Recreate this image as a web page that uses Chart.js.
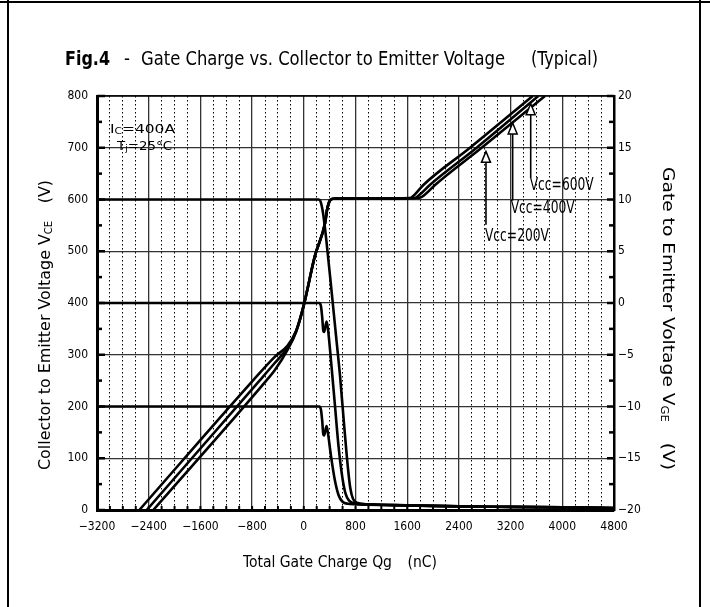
<!DOCTYPE html>
<html>
<head>
<meta charset="utf-8">
<script src="https://cdn.jsdelivr.net/npm/chart.js@4.4.0/dist/chart.umd.min.js"></script>
<style>
  html, body { margin: 0; padding: 0; background: #fff; }
</style>
</head>
<body>
<canvas id="grafico" width="710" height="607"></canvas>
<script>
const FONT = "'Liberation Sans Narrow', 'DejaVu Sans Condensed', 'Liberation Sans', sans-serif";

// Collector-emitter voltage curves (left axis, V) vs. gate charge (nC)
const vce600Qg = [-3200, 230, 260, 300, 350, 432, 500, 560, 620, 680, 720, 760, 820, 1000, 1600, 2400, 3200, 4000, 4800];
const vce600V  = [600, 600, 596, 572, 520, 420, 335, 260, 170, 85, 42, 22, 14, 11, 9, 7, 6, 5, 4];
const vce400Qg = [-3200, 240, 265, 285, 302, 315, 352, 372, 420, 480, 540, 600, 650, 700, 780, 1000, 1600, 2400, 3200, 4000, 4800];
const vce400V  = [400, 400, 394, 372, 346, 344, 364, 352, 290, 205, 120, 60, 30, 18, 13, 11, 9, 7, 6, 5, 4];
const vce200Qg = [-3200, 240, 265, 285, 302, 315, 352, 372, 420, 480, 540, 600, 680, 800, 1000, 1600, 2400, 3200, 4000, 4800];
const vce200V  = [200, 200, 194, 172, 146, 144, 162, 150, 105, 58, 28, 16, 12, 11, 10, 9, 7, 6, 5, 4];

// Gate-emitter voltage curves (right axis, V)
const vgeAQg = [-2545, -781, -450, -250, -120, 0, 170, 330, 360, 410, 480, 1000, 1650, 1720, 1850, 2572, 3542];
const vgeAV  = [-20, -7.45, -5.2, -4.1, -2.7, -0.2, 4.5, 7.75, 9.0, 9.95, 10.1, 10.1, 10.15, 10.5, 11.4, 15.0, 20];
const vgeBQg = [-2431, -678, -450, -250, -120, 0, 170, 330, 360, 410, 480, 1000, 1720, 1800, 1950, 2675, 3629];
const vgeBV  = [-20, -7.45, -5.8, -4.3, -2.75, -0.2, 4.5, 7.75, 9.0, 9.95, 10.1, 10.1, 10.15, 10.5, 11.4, 15.0, 20];
const vgeCQg = [-2329, -574, -450, -250, -120, 0, 170, 330, 360, 410, 480, 1000, 1790, 1880, 2030, 2752, 3732];
const vgeCV  = [-20, -7.45, -6.5, -4.5, -2.8, -0.2, 4.5, 7.75, 9.0, 9.95, 10.1, 10.1, 10.15, 10.5, 11.4, 15.0, 20];

// Vcc arrows: tip (Qg, Vce) and bottom of shaft (Vce)
const vccLabels  = ['Vcc=200V', 'Vcc=400V', 'Vcc=600V'];
const arrowTipQg = [2819, 3232, 3511];
const arrowTipV  = [693, 748, 785];
const arrowEndV  = [551, 598, 642];

function pontos(xs, ys) {
    return xs.map((x, i) => ({ x: x, y: ys[i] }));
}

function fmt(v) {
    return v < 0 ? '\u2212' + Math.abs(v) : String(v);
}

// draws a sequence of text runs, condensed horizontally by sx
function desenhaRuns(ctx, runs, x, y, sx) {
    ctx.save();
    ctx.translate(x, y);
    ctx.scale(sx, 1);
    let cx = 0;
    runs.forEach(r => {
        ctx.font = (r.bold ? 'bold ' : '') + r.size + 'px ' + FONT;
        ctx.fillText(r.t, cx, r.dy || 0);
        cx += ctx.measureText(r.t).width;
    });
    ctx.restore();
}

function larguraRuns(ctx, runs) {
    let w = 0;
    runs.forEach(r => {
        ctx.font = (r.bold ? 'bold ' : '') + r.size + 'px ' + FONT;
        w += ctx.measureText(r.t).width;
    });
    return w;
}

// fit runs into a target width starting at x
function runsFit(ctx, runs, x, y, alvo) {
    const w = larguraRuns(ctx, runs);
    desenhaRuns(ctx, runs, x, y, alvo / w);
}

const decor = {
    id: 'decor',
    afterDraw(chart) {
        const { ctx, chartArea: a, scales: { x, y, y2 } } = chart;
        ctx.save();
        ctx.strokeStyle = '#000';
        ctx.fillStyle = '#000';

        function linha(x1, y1, x2, y2p, w) {
            ctx.lineWidth = w;
            ctx.beginPath();
            ctx.moveTo(x1, y1);
            ctx.lineTo(x2, y2p);
            ctx.stroke();
        }

        // outer frame
        linha(0, 2, 710, 2, 2);
        linha(8, 0, 8, 607, 2);
        linha(700, 0, 700, 607, 2);

        // top border of plot
        linha(a.left, a.top, a.right, a.top, 1.5);

        // inward ticks
        for (let v = 0; v <= 800; v += 50) {
            const py = y.getPixelForValue(v);
            linha(a.left, py, a.left + (v % 100 === 0 ? 8 : 5), py, 2.5);
        }
        for (let v = -20; v <= 20; v += 2.5) {
            const py = y2.getPixelForValue(v);
            linha(a.right, py, a.right - (v % 5 === 0 ? 7 : 5), py, 2.5);
        }
        for (let q = -3200; q <= 4800; q += 200) {
            const px = x.getPixelForValue(q);
            linha(px, a.bottom, px, a.bottom - 4, 2);
        }

        ctx.textBaseline = 'middle';
        ctx.textAlign = 'left';

        // title
        runsFit(ctx, [{ t: 'Fig.4', size: 19, bold: true }], 65, 60, 45);
        runsFit(ctx, [{ t: '-', size: 19 }], 124, 60, 6);
        runsFit(ctx, [{ t: 'Gate Charge vs. Collector to Emitter Voltage', size: 19 }], 141, 60, 364);
        runsFit(ctx, [{ t: '(Typical)', size: 19 }], 531, 60, 67);

        // x axis title
        runsFit(ctx, [{ t: 'Total Gate Charge Qg\u3000(nC)', size: 15 }], 243, 563, 194);

        // left axis title
        ctx.save();
        ctx.translate(46, 470);
        ctx.rotate(-Math.PI / 2);
        runsFit(ctx, [
            { t: 'Collector to Emitter Voltage V', size: 16 },
            { t: 'CE', size: 10, dy: 3 },
            { t: '\u3000(V)', size: 16 }
        ], 0, 0, 290);
        ctx.restore();

        // right axis title
        ctx.save();
        ctx.translate(667, 167);
        ctx.rotate(Math.PI / 2);
        runsFit(ctx, [
            { t: 'Gate to Emitter Voltage V', size: 16 },
            { t: 'GE', size: 10, dy: 3 },
            { t: '\u3000(V)', size: 16 }
        ], 0, 0, 303);
        ctx.restore();

        // conditions
        runsFit(ctx, [{ t: 'I', size: 13 }, { t: 'C', size: 9, dy: 2 }, { t: '=400A', size: 13 }], 110, 130, 65);
        runsFit(ctx, [{ t: 'T', size: 13 }, { t: 'j', size: 9, dy: 2 }, { t: '=25\u00b0C', size: 13 }], 117, 147, 55);

        // Vcc arrows
        const textoDx = [-1, -2, -1];
        const textoDy = [12, 8, 8];
        vccLabels.forEach((lab, i) => {
            const px = x.getPixelForValue(arrowTipQg[i]);
            const pt = y.getPixelForValue(arrowTipV[i]);
            const pb = y.getPixelForValue(arrowEndV[i]);
            linha(px, pt + 9, px, pb, 1.6);
            ctx.beginPath();
            ctx.moveTo(px, pt);
            ctx.lineTo(px - 4.5, pt + 11);
            ctx.lineTo(px + 4.5, pt + 11);
            ctx.closePath();
            ctx.fillStyle = '#fff';
            ctx.fill();
            ctx.lineWidth = 1.5;
            ctx.stroke();
            ctx.fillStyle = '#000';
            runsFit(ctx, [{ t: lab, size: 17 }], px + textoDx[i], pb + textoDy[i], 64);
        });

        ctx.restore();
    }
};

const estiloLinha = { borderColor: '#000', borderWidth: 2.6, pointRadius: 0, fill: false, cubicInterpolationMode: 'monotone' };

new Chart(document.getElementById('grafico'), {
    type: 'line',
    data: {
        datasets: [
            Object.assign({ label: 'VCE 600', data: pontos(vce600Qg, vce600V), yAxisID: 'y' }, estiloLinha),
            Object.assign({ label: 'VCE 400', data: pontos(vce400Qg, vce400V), yAxisID: 'y' }, estiloLinha),
            Object.assign({ label: 'VCE 200', data: pontos(vce200Qg, vce200V), yAxisID: 'y' }, estiloLinha),
            Object.assign({ label: 'VGE 200', data: pontos(vgeAQg, vgeAV), yAxisID: 'y2' }, estiloLinha),
            Object.assign({ label: 'VGE 400', data: pontos(vgeBQg, vgeBV), yAxisID: 'y2' }, estiloLinha),
            Object.assign({ label: 'VGE 600', data: pontos(vgeCQg, vgeCV), yAxisID: 'y2' }, estiloLinha)
        ]
    },
    options: {
        responsive: false,
        animation: false,
        layout: { padding: { top: 96, left: 0, right: 0, bottom: 0 } },
        plugins: { legend: { display: false }, tooltip: { enabled: false } },
        scales: {
            x: {
                type: 'linear', min: -3200, max: 4800,
                afterFit(s) { s.height = 97; },
                ticks: {
                    stepSize: 200, autoSkip: false, maxRotation: 0, padding: 10, color: '#000',
                    font: { family: FONT, size: 12 },
                    callback: v => (v % 800 === 0 ? fmt(v) : '')
                },
                grid: {
                    drawTicks: false,
                    color: c => (c.tick && c.tick.value % 800 !== 0 ? '#000' : '#333'),
                    lineWidth: c => (c.tick && c.tick.value % 800 !== 0 ? 1 : 1.3)
                },
                border: {
                    width: 3, color: '#000',
                    dash: c => (c.tick && c.tick.value % 800 !== 0 ? [1.5, 2.5] : [])
                }
            },
            y: {
                position: 'left', min: 0, max: 800,
                afterFit(s) { s.width = 97; },
                ticks: { stepSize: 100, padding: 9, color: '#000', font: { family: FONT, size: 12 } },
                grid: { drawTicks: false, color: '#333', lineWidth: 1.3 },
                border: { width: 3, color: '#000' }
            },
            y2: {
                position: 'right', min: -20, max: 20,
                afterFit(s) { s.width = 96; },
                ticks: { stepSize: 5, padding: 4, color: '#000', font: { family: FONT, size: 12 }, callback: v => fmt(v) },
                grid: { drawOnChartArea: false, drawTicks: false },
                border: { width: 2.5, color: '#000' }
            }
        }
    },
    plugins: [decor]
});
</script>
</body>
</html>
